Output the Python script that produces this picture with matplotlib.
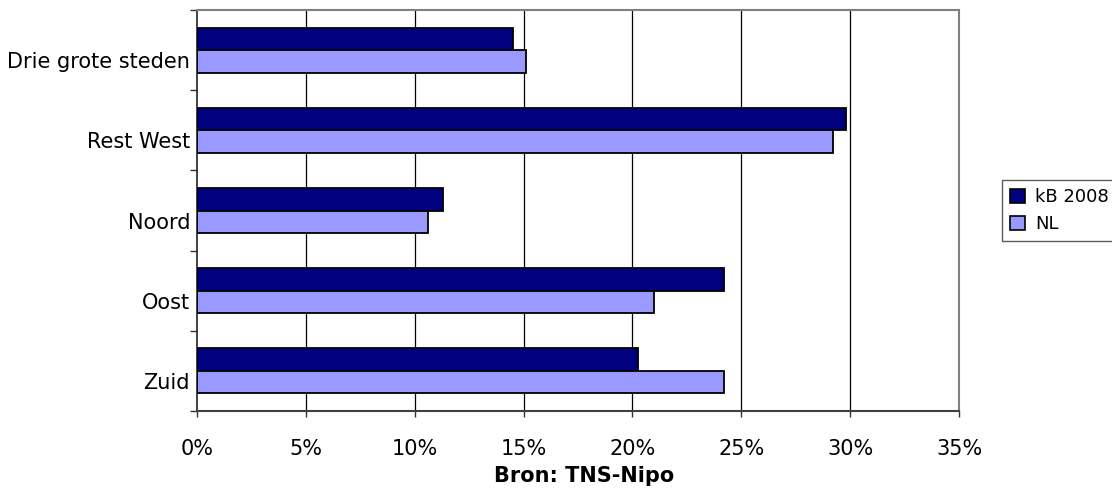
import matplotlib
matplotlib.use("Agg")
import matplotlib.pyplot as plt
from matplotlib.transforms import ScaledTranslation
from matplotlib.patches import Patch
from matplotlib.ticker import FixedLocator, FuncFormatter
import numpy as np

# Regional distribution (%)
regions = ["Drie grote steden", "Rest West", "Noord", "Oost", "Zuid"]
kb_2008 = [14.5, 29.8, 11.3, 24.2, 20.25]
nl = [15.1, 29.2, 10.6, 21.0, 24.2]
series_names = ["kB 2008", "NL"]
x_ticks = [0, 5, 10, 15, 20, 25, 30, 35]

dark = "#000080"
light = "#9999FF"

fig = plt.figure(figsize=(11.12, 4.90), dpi=100)
ax = fig.add_axes([197 / 1112, 1 - 411 / 490, 762 / 1112, 401 / 490])

pos = np.arange(len(regions))
bar_h = 0.28
ax.barh(pos - bar_h / 2, kb_2008, height=bar_h, color=dark,
        edgecolor="black", linewidth=1.3, zorder=3)
ax.barh(pos + bar_h / 2, nl, height=bar_h, color=light,
        edgecolor="black", linewidth=1.3, zorder=3)

ax.set_xlim(0, 35)
ax.set_ylim(len(regions) - 0.5, -0.5)

# x axis
ax.set_xticks(x_ticks)
ax.xaxis.set_major_formatter(FuncFormatter(lambda v, p: f"{v:.0f}%"))
ax.tick_params(axis="x", direction="out", length=4, width=1, color="#333333",
               labelsize=15, pad=16)
for x in x_ticks[1:-1]:
    ax.axvline(x, color="black", linewidth=0.9, zorder=1)

# y axis: boundary ticks, labels near category centres
ax.set_yticks(pos)
ax.set_yticklabels(regions)
ax.yaxis.set_minor_locator(FixedLocator(np.arange(-0.5, len(regions), 1.0)))
ax.tick_params(axis="y", which="major", length=0, labelsize=15, pad=5)
ax.tick_params(axis="y", which="minor", direction="out", length=5, width=1,
               color="#333333")
off = ScaledTranslation(0, -10 / 100, fig.dpi_scale_trans)
for lab in ax.get_yticklabels():
    lab.set_transform(lab.get_transform() + off)

for side in ["top", "right"]:
    ax.spines[side].set_color("#808080")
    ax.spines[side].set_linewidth(1.5)
ax.spines["left"].set_color("#222222")
ax.spines["bottom"].set_color("#404040")
ax.spines["left"].set_linewidth(1.2)
ax.spines["bottom"].set_linewidth(1.5)

ax.set_xlabel("Bron: TNS-Nipo", fontsize=15, fontweight="bold")
ax.xaxis.set_label_coords((584 - 197) / 762, (411 - 476) / 401)
ax.xaxis.label.set_va("center")

handles = [Patch(facecolor=dark, edgecolor="black", linewidth=1.2),
           Patch(facecolor=light, edgecolor="black", linewidth=1.2)]
leg = fig.legend(handles, series_names, loc="upper left",
                 bbox_to_anchor=(1002 / 1112, 1 - 180 / 490),
                 borderaxespad=0, fontsize=13, frameon=True, fancybox=False,
                 handlelength=0.8, handleheight=0.8, handletextpad=0.6,
                 labelspacing=0.5, borderpad=0.45)
leg.get_frame().set_edgecolor("#333333")
leg.get_frame().set_linewidth(1.0)

fig.savefig("out.png", dpi=100)
